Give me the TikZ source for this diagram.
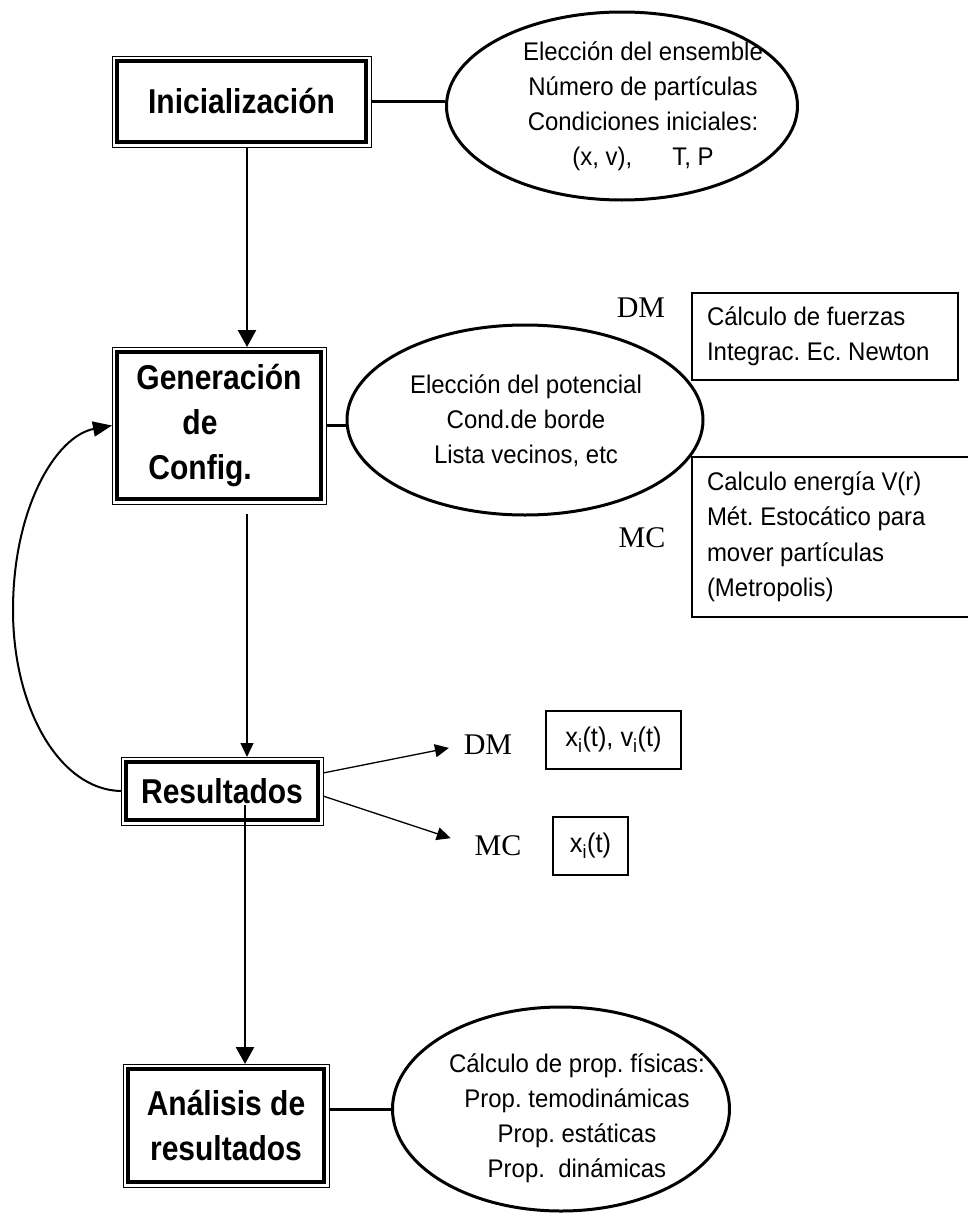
\documentclass[tikz,border=0pt]{standalone}
\usepackage{fontspec}
\setmainfont{Liberation Sans}[FakeStretch=0.94]
\newfontfamily\boxfont{Liberation Sans Bold}[FakeStretch=0.87]
\newfontfamily\lblfont{Liberation Serif}
\usetikzlibrary{shapes.geometric,arrows.meta}
\frenchspacing

\tikzset{
  stepframe/.style={draw, line width=4pt, outer sep=5pt, inner sep=0pt, align=center,
    font={\boxfont\fontsize{34.5pt}{45pt}\selectfont}},
  bubble/.style={draw, ellipse, line width=3pt, inner sep=0pt},
  bubbletext/.style={align=center, font={\fontsize{25.5pt}{35pt}\selectfont}},
  infobox/.style={draw, line width=2pt, inner xsep=15pt, align=flush left,
    font={\fontsize{25.5pt}{35.5pt}\selectfont}},
  method/.style={inner sep=0pt, font={\lblfont\fontsize{30pt}{30pt}\selectfont}},
  link/.style={line width=3pt},
  bigarrow/.style={line width=2.5pt, -{Triangle[length=17pt,width=18pt]}},
  thinarrow/.style={line width=1.3pt, -{Triangle[length=14pt,width=13pt]}},
  loopback/.style={line width=2pt, -{Triangle[length=19pt,width=15pt]}}
}

\begin{document}
\begin{tikzpicture}[x=1pt, y=-1pt]
\useasboundingbox (0,0) rectangle (968,1218);

% main steps
\node[stepframe, minimum width=249pt, minimum height=81pt] (init) at (241.5,101.5) {Inicialización};
\node[stepframe, minimum width=204pt, minimum height=147pt, align=left] (gen) at (219,425.5)
  {Generación\\\hspace*{46pt}de\\\hspace*{12pt}Config.};
\node[stepframe, minimum width=192pt, minimum height=58pt] (res) at (222,791) {Resultados};
\node[stepframe, minimum width=196pt, minimum height=113pt] (ana) at (226,1125.5) {Análisis de\\resultados};
\foreach \n in {init,gen,res,ana}
  \draw[line width=1pt] (\n.north west) rectangle (\n.south east);

% ellipses
\node[bubble, minimum width=351pt, minimum height=188pt] (e1) at (622,106) {};
\node[bubbletext] (e1text) at (643,106)
  {Elección del ensemble\\Número de partículas\\Condiciones iniciales:\\(x, v),\hspace*{40pt}T, P};
\node[bubble, minimum width=356pt, minimum height=190pt] (e2) at (525,420) {};
\node[bubbletext] (e2text) at (526,421)
  {Elección del potencial\\Cond.de borde\\Lista vecinos, etc};
\node[bubble, minimum width=337pt, minimum height=204pt] (e3) at (561,1109) {};
\node[bubbletext] (e3text) at (577,1118)
  {Cálculo de prop. físicas:\\Prop. temodinámicas\\Prop. estáticas\\Prop.\ \ dinámicas};

% DM / MC
\node[method] (dmgen) at (641,308) {DM};
\node[method] (mcgen) at (642,538) {MC};
\node[infobox, text width=236pt, minimum height=87pt] (dmbox) at (825,336.5)
  {Cálculo de fuerzas\\Integrac. Ec. Newton};
\node[infobox, text width=268pt, minimum height=160pt] (mcbox) at (841,537)
  {Calculo energía V(r)\\Mét. Estocático para\\mover partículas\\(Metropolis)};

\node[method] (dmres) at (488,745) {DM};
\node[method] (mcres) at (498,846) {MC};
\node[infobox, minimum width=135pt, minimum height=58pt, inner xsep=0pt, align=center,
  font={\fontsize{27pt}{30pt}\selectfont}] (xvbox) at (613.5,740)
  {x\textsubscript{i}(t), v\textsubscript{i}(t)};
\node[infobox, minimum width=75pt, minimum height=58pt, inner xsep=0pt, align=center,
  font={\fontsize{27pt}{30pt}\selectfont}] (xbox) at (590.5,846)
  {x\textsubscript{i}(t)};

% connectors
\coordinate (initout) at ([xshift=5.5pt]init.south);
\coordinate (genout) at ([xshift=28pt]gen.south);
\coordinate (resin) at ([xshift=23pt,yshift=-14pt]res.center);
\coordinate (anaout) at ([yshift=16.5pt]ana.east);
\coordinate (apex) at (13,610);

\draw[link] (init.east) -- (init.east -| e1.west);
\draw[link] (gen.east) -- (gen.east -| e2.west);
\draw[link] (anaout) -- (anaout -| e3.west);

\draw[bigarrow] (initout) -- (initout |- gen.north);
\draw[thinarrow, shorten <=10pt] (genout) -- (genout |- res.north);
\draw[bigarrow] (resin) -- (resin |- ana.north);
\draw[thinarrow, shorten >=15pt] ([yshift=18pt]res.east) -- (dmres.west);
\draw[thinarrow, shorten >=25pt] ([yshift=-5pt]res.east) -- (mcres.west);
\draw[loopback] (res.west) .. controls (60,790) and (13,709) .. (apex)
  .. controls (13,508) and (56,436) .. (gen.west);
\end{tikzpicture}
\end{document}
